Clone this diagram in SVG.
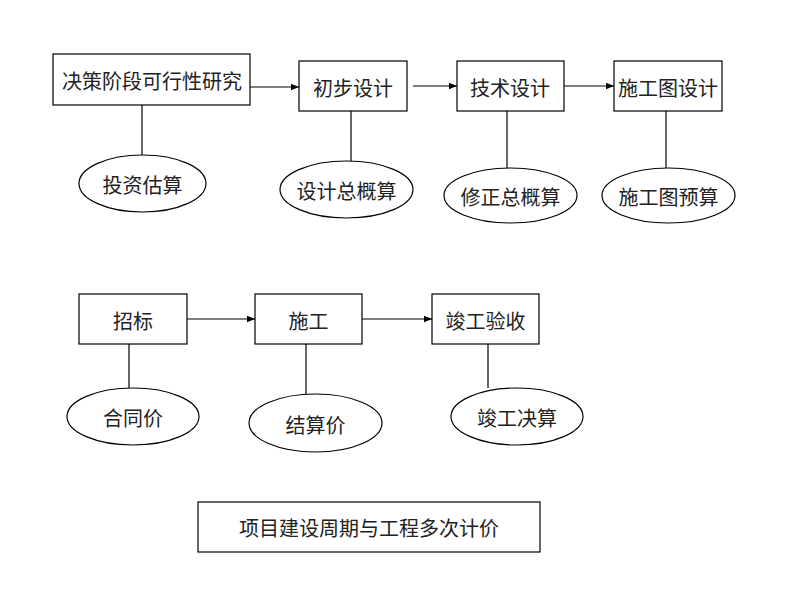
<svg xmlns="http://www.w3.org/2000/svg" width="800" height="600" viewBox="0 0 800 600">
<style>
.box{fill:#fff;stroke:#000;stroke-width:1.2}
.ell{fill:#fff;stroke:#000;stroke-width:1.2}
.ln{stroke:#000;stroke-width:1.2;fill:none}
text{font-family:"Noto Sans CJK SC","Liberation Sans",sans-serif;font-size:20px;fill:#222;text-anchor:middle;dominant-baseline:central}
</style>
<defs>
<marker id="ah" viewBox="0 0 10 10" refX="10" refY="5" markerWidth="8" markerHeight="8" markerUnits="userSpaceOnUse" orient="auto">
<path d="M0,1 L10,5 L0,9 Z" fill="#000"/>
</marker>
</defs>
<rect width="800" height="600" fill="#fff"/>
<g id="connectors">
<line class="ln" x1="250" y1="87" x2="299" y2="87" marker-end="url(#ah)"/>
<line class="ln" x1="413" y1="86" x2="457" y2="86" marker-end="url(#ah)"/>
<line class="ln" x1="564" y1="86" x2="614" y2="86" marker-end="url(#ah)"/>
<line class="ln" x1="187" y1="319" x2="255" y2="319" marker-end="url(#ah)"/>
<line class="ln" x1="362" y1="319" x2="432" y2="319" marker-end="url(#ah)"/>
<line class="ln" x1="142" y1="105" x2="142" y2="155"/>
<line class="ln" x1="351" y1="111" x2="351" y2="161"/>
<line class="ln" x1="507" y1="111" x2="507" y2="168"/>
<line class="ln" x1="666" y1="111" x2="666" y2="168"/>
<line class="ln" x1="129" y1="344" x2="129" y2="388"/>
<line class="ln" x1="306" y1="344" x2="306" y2="394"/>
<line class="ln" x1="488" y1="344" x2="488" y2="388"/>
</g>
<g id="n1"><rect class="box" x="53" y="54" width="197" height="51"/><text x="152" y="80">决策阶段可行性研究</text></g>
<g id="n2"><rect class="box" x="299" y="61" width="108" height="50"/><text x="353" y="87">初步设计</text></g>
<g id="n3"><rect class="box" x="457" y="61" width="107" height="50"/><text x="510" y="87">技术设计</text></g>
<g id="n4"><rect class="box" x="614" y="61" width="108" height="50"/><text x="668" y="87">施工图设计</text></g>
<g id="e1"><ellipse class="ell" cx="142.5" cy="183.5" rx="63.5" ry="28.5"/><text x="142.5" y="184">投资估算</text></g>
<g id="e2"><ellipse class="ell" cx="346.5" cy="189.5" rx="66.5" ry="28.5"/><text x="346.5" y="190">设计总概算</text></g>
<g id="e3"><ellipse class="ell" cx="510.5" cy="195.5" rx="66.5" ry="27.5"/><text x="510.5" y="196">修正总概算</text></g>
<g id="e4"><ellipse class="ell" cx="668.5" cy="195.5" rx="66.5" ry="27.5"/><text x="668.5" y="196">施工图预算</text></g>
<g id="n5"><rect class="box" x="79" y="294" width="108" height="50"/><text x="133" y="320">招标</text></g>
<g id="n6"><rect class="box" x="255" y="294" width="107" height="50"/><text x="308.5" y="320">施工</text></g>
<g id="n7"><rect class="box" x="432" y="294" width="107" height="50"/><text x="485.5" y="320">竣工验收</text></g>
<g id="e5"><ellipse class="ell" cx="133" cy="416.5" rx="66" ry="28.5"/><text x="133" y="417">合同价</text></g>
<g id="e6"><ellipse class="ell" cx="315.5" cy="423" rx="66.5" ry="29"/><text x="315.5" y="424">结算价</text></g>
<g id="e7"><ellipse class="ell" cx="517" cy="416.5" rx="66" ry="28.5"/><text x="517" y="417">竣工决算</text></g>
<g id="title"><rect class="box" x="198" y="502" width="342" height="50"/><text x="369" y="527">项目建设周期与工程多次计价</text></g>
</svg>
